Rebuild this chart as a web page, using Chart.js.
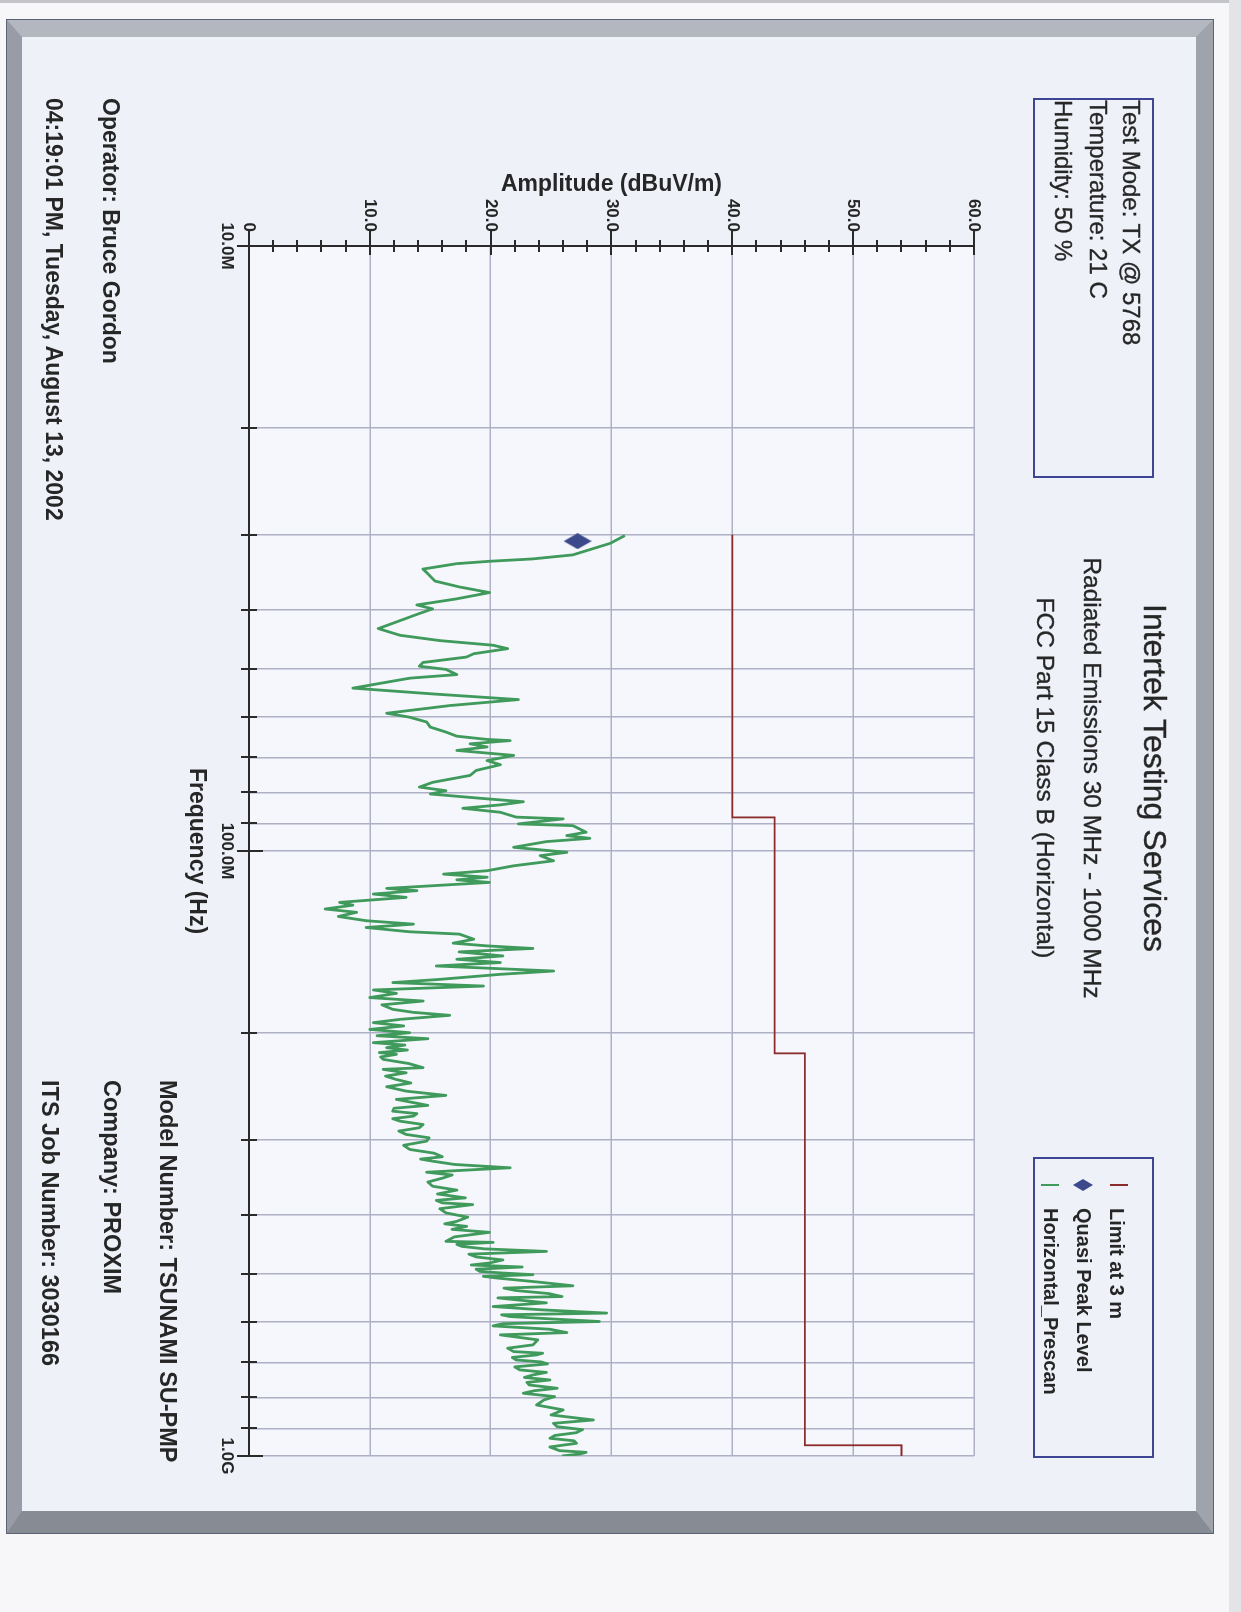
<!DOCTYPE html>
<html>
<head>
<meta charset="utf-8">
<script src="https://cdn.jsdelivr.net/npm/chart.js@4.4.1/dist/chart.umd.min.js"></script>
<style>
  html, body { margin: 0; padding: 0; }
  body {
    width: 1241px; height: 1612px; overflow: hidden; position: relative;
    background: #f7f7f9; font-family: "Liberation Sans", Arial, sans-serif; color: #262626;
  }
  .topline { position: absolute; left: 0; top: 0; width: 1241px; height: 3px; background: #c4c5c9; }
  .strip { position: absolute; left: 1229px; top: 0; width: 12px; height: 1612px; background: #e3e4e8; }
  .frame {
    position: absolute; left: 7px; top: 20px; width: 1206px; height: 1513px; box-sizing: border-box;
    border-style: solid; border-width: 17px 17px 22px 15px;
    border-color: #b3b7bf #9ea3ac #868b94 #979ca7;
    background: #eff1f9; box-shadow: 0 0 0 1px #5a6274;
  }
  /* landscape page, turned a quarter clockwise like the scan */
  .page {
    position: absolute; left: 0; top: 0; width: 1612px; height: 1241px;
    transform-origin: 0 0; transform: translate(1241px, 0) rotate(90deg);
  }
  .page canvas { position: absolute; left: 0; top: 0; }
  .t { position: absolute; white-space: nowrap; line-height: 1; }
  .heavy { -webkit-text-stroke: 0.35px #262626; }
  .box { position: absolute; box-sizing: border-box; border: 2px solid #3d4594; }
  .dash { position: absolute; width: 2px; height: 18px; }
  .diamond { position: absolute; width: 12px; height: 20px; background: #3c4a8c;
    clip-path: polygon(50% 0, 100% 50%, 50% 100%, 0 50%); }
</style>
</head>
<body>
<div class="topline"></div>
<div class="strip"></div>
<div class="frame"></div>

<div class="page">
  <canvas id="emissions" width="1612" height="1241"></canvas>

  <div class="t heavy" style="left:378px; width:800px; text-align:center; top:70px; font-size:32px;">Intertek Testing Services</div>
  <div class="t heavy" style="left:378px; width:800px; text-align:center; top:137px; font-size:24.5px;">Radiated Emissions 30 MHz - 1000 MHz</div>
  <div class="t heavy" style="left:378px; width:800px; text-align:center; top:184px; font-size:24.5px;">FCC Part 15 Class B (Horizontal)</div>

  <div class="box" style="left:98px; top:87px; width:380px; height:121px;"></div>
  <div class="t heavy" style="left:100px; top:98px; font-size:24px;">Test Mode: TX @ 5768</div>
  <div class="t heavy" style="left:100px; top:131px; font-size:24px;">Temperature: 21 C</div>
  <div class="t heavy" style="left:100px; top:166px; font-size:24px;">Humidity: 50 %</div>

  <div class="box" style="left:1157px; top:87px; width:301px; height:121px;"></div>
  <div class="dash" style="left:1184px; top:113px; background:#8b2b2b;"></div>
  <div class="t" style="left:1208px; top:114px; font-size:20px; font-weight:bold;">Limit at 3 m</div>
  <div class="diamond" style="left:1179px; top:148px;"></div>
  <div class="t" style="left:1208px; top:147px; font-size:20px; font-weight:bold;">Quasi Peak Level</div>
  <div class="dash" style="left:1184px; top:182px; background:#3f9a5c;"></div>
  <div class="t" style="left:1208px; top:180px; font-size:20px; font-weight:bold;">Horizontal_Prescan</div>

  <div class="t" style="left:98px; top:1119px; font-size:23px; font-weight:bold;">Operator: Bruce Gordon</div>
  <div class="t" style="left:98px; top:1176px; font-size:23px; font-weight:bold;">04:19:01 PM, Tuesday, August 13, 2002</div>
  <div class="t" style="left:1080px; top:1062px; font-size:23.5px; font-weight:bold;">Model Number: TSUNAMI SU-PMP</div>
  <div class="t" style="left:1080px; top:1118px; font-size:23.5px; font-weight:bold;">Company: PROXIM</div>
  <div class="t" style="left:1080px; top:1180px; font-size:23.5px; font-weight:bold;">ITS Job Number: 3030166</div>
</div>

<script>
// axis ticks
const freqGridMHz = [10, 20, 30, 40, 50, 60, 70, 80, 90, 100, 200, 300, 400, 500, 600, 700, 800, 900, 1000];
const freqLabelValues = [10, 100, 1000];
const freqLabelText = ["10.0M", "100.0M", "1.0G"];
const amplitudeTicks = [0, 10, 20, 30, 40, 50, 60];
const amplitudeMinorStep = 2;

// FCC limit at 3 m (MHz, dBuV/m)
const limitFreq = [30, 88, 216, 960, 1000];
const limitLevel = [40, 43.5, 46, 54, 54];

// quasi peak measurement
const qpFreq = [30.75];
const qpLevel = [27.2];

// horizontal prescan trace (MHz, dBuV/m)
const prescanFreq = [
  30.1, 31.0, 32.4, 32.9, 33.2, 33.5, 34.2, 34.8, 35.8, 36.6, 37.4, 38.3, 39.2, 39.8, 40.5, 42.9, 44.0, 44.9, 45.7, 46.3,
  47.2, 47.8, 48.8, 49.5, 50.1, 51.1, 51.8,
  53.8, 55.0, 56.2, 57.5, 59.2, 60.1, 61.2, 62.4, 63.6, 64.6, 65.4, 65.7, 66.5, 67.3, 68.2, 69.5, 70.9, 72.0, 73.6, 75.0,
  77.0, 78.4, 79.5, 80.5, 82.0, 82.9, 83.9, 85.0, 86.3, 87.9, 88.5, 90.2, 90.8, 93.1, 94.3, 95.3,
  96.5, 98.6, 100.5, 101.8, 103.8, 105.8, 107.8, 109.2, 110.5, 111.6, 112.7, 115.3, 116.3, 117.8, 119.3, 121.6, 122.9,
  124.7, 126.3, 128.3, 130.4, 132.1, 133.8, 136.0, 137.2, 139.9, 142.0, 143.5, 144.9, 146.8, 149.1, 151.0, 152.9, 154.9,
  157.9, 159.9, 163.0, 165.0, 167.2, 169.7, 171.9, 174.7,
  177.0, 179.6, 182.7, 184.8, 186.9, 189.8, 192.2, 194.6, 197.2, 199.7, 202.0, 204.3, 207.4, 209.3, 211.4, 213.3, 215.4,
  216.8, 219.0, 221.0, 224.5, 228.1, 229.6, 232.6, 235.6, 238.6, 241.8, 245.3, 249.4, 253.5, 257.4, 260.3, 263.3, 266.2,
  269.2, 271.7, 274.3, 277.0, 279.6, 283.2, 286.7, 290.4, 294.1, 297.9, 301.7, 306.5, 311.4, 315.8, 320.2,
  323.0, 325.6, 329.7, 333.9, 339.6, 343.2, 346.9, 352.5, 358.2, 363.5, 368.9, 374.4, 378.0, 381.6, 384.1, 390.2, 396.5,
  402.9, 409.4, 413.3, 417.3, 422.1, 426.9, 434.3, 441.8, 443.5, 446.9, 450.3, 454.6, 459.0, 463.9, 468.8, 474.2, 479.7,
  483.4, 487.1, 491.2, 495.4, 498.4, 501.5, 504.7, 507.9, 515.5, 523.2, 527.9, 532.7, 538.9, 545.1, 547.8, 550.5, 558.3,
  566.2, 573.3, 580.5, 584.3, 588.2, 593.8,
  599.4, 604.4, 609.5, 617.3, 625.2, 630.7, 642.8, 655.1, 663.5, 672.1, 676.3, 680.6, 687.2, 693.8, 699.1, 704.4, 712.4,
  720.6, 727.5, 734.5, 741.6, 748.7, 755.9, 763.2, 772.7, 780.1, 787.6, 797.7, 808.0, 823.5, 839.2, 855.4, 871.9, 883.1,
  894.4, 904.6, 915.0, 924.9, 934.9, 943.8, 952.8, 966.2, 979.9, 986.1, 992.4, 1000
];
const prescanLevel = [
  31.1, 29.9, 26.8, 23.5, 19.9, 17.2, 14.4, 14.8, 15.4, 17.4, 19.9, 17.2, 13.9, 15.2, 14.1, 10.7, 12.5, 15.8, 20.2, 21.4,
  18.6, 18.0, 14.4, 14.1, 16.3, 17.2, 13.3,
  8.6, 15.2, 22.3, 16.6, 11.4, 13.3, 14.7, 15.0, 16.3, 17.2, 19.7, 21.6, 18.3, 19.7, 17.2, 21.9, 19.7, 20.8, 18.8, 18.3,
  15.2, 14.1, 16.3, 15.0, 19.7, 22.7, 20.8, 17.7, 20.8, 22.1, 26.0, 22.3, 26.8, 27.9, 26.3, 28.2,
  24.6, 21.9, 26.3, 24.1, 25.2, 21.9, 19.7, 16.1, 19.7, 17.2, 19.9, 11.4, 13.9, 10.3, 13.0, 7.5, 8.6,
  6.3, 8.9, 7.4, 9.7, 13.6, 9.7, 13.3, 17.4, 18.6, 16.9, 19.7, 23.5, 17.4, 21.0, 17.2, 20.8, 15.5,
  25.2, 20.8, 15.8, 11.9, 19.4, 10.3, 12.2, 10.0,
  14.4, 11.0, 11.9, 13.6, 16.6, 12.5, 10.3, 12.8, 10.0, 13.3, 10.6, 14.8, 10.3, 12.9, 11.4, 13.1, 10.8,
  12.2, 10.9, 11.1, 13.2, 14.4, 11.1, 13.0, 11.3, 12.2, 13.4, 11.4, 13.0, 16.3, 12.2, 13.5, 14.8, 12.0,
  11.9, 13.9, 13.6, 11.9, 12.5, 14.4, 14.1, 12.4, 13.0, 14.9, 14.7, 12.8, 13.3, 15.3, 16.0,
  14.2, 15.2, 17.0, 21.6, 14.7, 16.8, 16.1, 14.8, 15.2, 17.2, 15.6, 17.9, 15.5, 16.0, 18.5, 15.8, 16.3,
  18.1, 17.2, 16.2, 18.0, 16.8, 19.9, 17.0, 16.3, 20.2, 17.2, 17.6, 19.5, 24.6, 18.2, 18.8, 21.0, 19.9,
  18.4, 22.6, 18.8, 19.1, 21.0, 23.5, 19.4, 20.5, 23.8, 26.8, 21.1, 22.1, 24.8, 25.9, 20.6, 21.6, 24.6,
  20.2, 24.2, 29.6, 20.9, 21.6, 25.2,
  29.0, 21.0, 20.2, 24.9, 26.3, 20.8, 23.9, 23.5, 21.4, 21.9, 24.3, 23.8, 21.8, 22.1, 24.2, 24.7, 22.0,
  22.4, 24.6, 23.5, 22.8, 24.9, 23.0, 23.2, 25.5, 23.6, 22.7, 25.3, 24.4, 23.8, 26.0, 25.0, 28.5, 25.2,
  25.5, 27.6, 27.1, 25.3, 24.9, 26.9, 27.1, 24.9, 25.7, 27.9, 27.4, 25.9
];

const gridColor = "#aeb0c6";
const axisColor = "#2a2a2a";
const textColor = "#262626";

function points(xs, ys) {
  return xs.map((x, i) => ({ x: x, y: ys[i] }));
}

// tall navy diamond for the quasi peak marker
function diamondImage(w, h, color) {
  const c = document.createElement("canvas");
  c.width = w;
  c.height = h;
  const g = c.getContext("2d");
  g.fillStyle = color;
  g.beginPath();
  g.moveTo(w / 2, 0);
  g.lineTo(w, h / 2);
  g.lineTo(w / 2, h);
  g.lineTo(0, h / 2);
  g.closePath();
  g.fill();
  return c;
}

// plot background
const plotBackground = {
  id: "plotBackground",
  beforeDraw(chart) {
    const { ctx, chartArea: a } = chart;
    ctx.save();
    ctx.fillStyle = "#f6f7fc";
    ctx.fillRect(a.left, a.top, a.right - a.left, a.bottom - a.top);
    ctx.restore();
  },
};

// tick marks that cross the axis lines
const axisTicks = {
  id: "axisTicks",
  afterDraw(chart) {
    const { ctx, chartArea: a, scales } = chart;
    ctx.save();
    ctx.strokeStyle = axisColor;
    ctx.lineWidth = 2;
    ctx.beginPath();
    for (let v = amplitudeTicks[0]; v <= amplitudeTicks[amplitudeTicks.length - 1]; v += amplitudeMinorStep) {
      const py = Math.round(scales.y.getPixelForValue(v));
      const major = amplitudeTicks.includes(v);
      ctx.moveTo(a.left - (major ? 16 : 6), py);
      ctx.lineTo(a.left + (major ? 9 : 6), py);
    }
    freqGridMHz.forEach((f) => {
      const px = Math.round(scales.x.getPixelForValue(f));
      const major = freqLabelValues.includes(f);
      ctx.moveTo(px, a.bottom - (major ? 14 : 8));
      ctx.lineTo(px, a.bottom + (major ? 12 : 8));
    });
    ctx.stroke();
    ctx.restore();
  },
};

Chart.defaults.font.family = "'Liberation Sans', Arial, sans-serif";
Chart.defaults.color = textColor;

new Chart(document.getElementById("emissions"), {
  type: "line",
  data: {
    datasets: [
      {
        label: "Quasi Peak Level",
        data: points(qpFreq, qpLevel),
        showLine: false,
        pointStyle: diamondImage(16, 28, "#3c4a8c"),
        pointRadius: 14,
        order: 0,
      },
      {
        label: "Horizontal_Prescan",
        data: points(prescanFreq, prescanLevel),
        borderColor: "#3f9a5c",
        borderWidth: 2.8,
        borderJoinStyle: "round",
        pointRadius: 0,
        tension: 0,
        order: 1,
      },
      {
        label: "Limit at 3 m",
        data: points(limitFreq, limitLevel),
        borderColor: "#8b2b2b",
        borderWidth: 1.8,
        stepped: true,
        pointRadius: 0,
        order: 2,
      },
    ],
  },
  options: {
    responsive: false,
    animation: false,
    layout: { padding: { left: 166, right: 156, top: 267, bottom: 180 } },
    plugins: {
      legend: { display: false },
      tooltip: { enabled: false },
    },
    scales: {
      x: {
        type: "logarithmic",
        min: 10,
        max: 1000,
        afterBuildTicks: (s) => {
          s.ticks = freqGridMHz.map((v) => ({ value: v }));
        },
        afterFit: (s) => {
          s.height = 69;
        },
        grid: { color: gridColor, lineWidth: 1.5, drawTicks: false },
        border: { color: axisColor, width: 2 },
        ticks: {
          autoSkip: false,
          maxRotation: 0,
          padding: 12,
          color: textColor,
          font: { size: 17, weight: "bold" },
          callback: (value) => {
            const i = freqLabelValues.indexOf(value);
            return i >= 0 ? freqLabelText[i] : "";
          },
        },
        title: {
          display: true,
          text: "Frequency (Hz)",
          color: textColor,
          padding: { top: 0, bottom: 3 },
          font: { size: 23, weight: "bold" },
        },
      },
      y: {
        min: 0,
        max: 60,
        afterBuildTicks: (s) => {
          s.ticks = amplitudeTicks.map((v) => ({ value: v }));
        },
        afterFit: (s) => {
          s.width = 80;
        },
        grid: { color: gridColor, lineWidth: 1.5, drawTicks: false },
        border: { color: axisColor, width: 2 },
        ticks: {
          padding: 14,
          color: textColor,
          font: { size: 17, weight: "bold" },
          callback: (value) => (value === 0 ? "0" : value.toFixed(1)),
        },
        title: {
          display: true,
          text: "Amplitude (dBuV/m)",
          color: textColor,
          padding: { top: 5, bottom: 0 },
          font: { size: 23, weight: "bold" },
        },
      },
    },
  },
  plugins: [plotBackground, axisTicks],
});
</script>
</body>
</html>
